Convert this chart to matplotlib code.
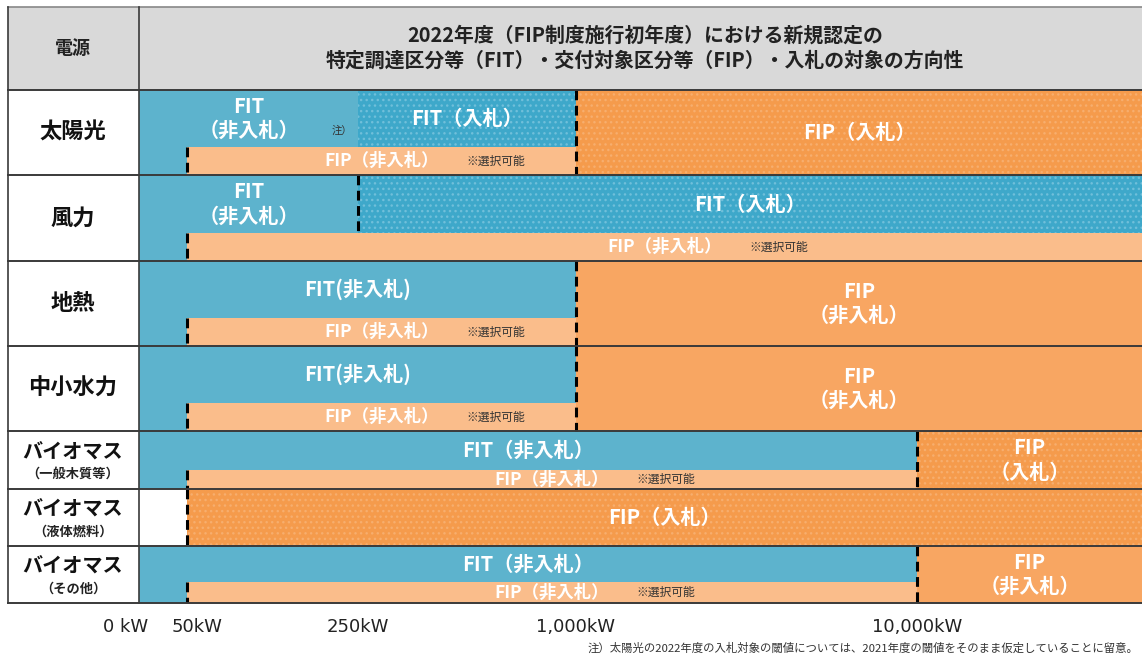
import numpy as np
import matplotlib
matplotlib.use("Agg")
import matplotlib.pyplot as plt
from matplotlib.transforms import blended_transform_factory, offset_copy, ScaledTranslation

plt.rcParams['font.family'] = ['Noto Sans CJK JP', 'DejaVu Sans']
plt.rcParams['hatch.linewidth'] = 1.0

# ---- data ----
sources = ["太陽光", "風力", "地熱", "中小水力", "バイオマス", "バイオマス", "バイオマス"]
sub_labels = ["", "", "", "", "（一般木質等）", "（液体燃料）", "（その他）"]

kw_ticks = [0, 50, 250, 1000, 10000]
kw_tick_labels = ["0 kW", "50kW", "250kW", "1,000kW", "10,000kW"]
KW_END = 30000  # right edge of the table (beyond 10,000kW)

# segments per source: (start kW, end kW, kind, label)
segments = [
    [(0, 250, "fit", "FIT\n（非入札）"), (250, 1000, "fit_bid", "FIT（入札）"), (1000, KW_END, "fip_bid", "FIP（入札）")],
    [(0, 250, "fit", "FIT\n（非入札）"), (250, KW_END, "fit_bid", "FIT（入札）")],
    [(0, 1000, "fit", "FIT(非入札)"), (1000, KW_END, "fip", "FIP\n（非入札）")],
    [(0, 1000, "fit", "FIT(非入札)"), (1000, KW_END, "fip", "FIP\n（非入札）")],
    [(0, 10000, "fit", "FIT（非入札）"), (10000, KW_END, "fip_bid", "FIP\n（入札）")],
    [(50, KW_END, "fip_bid", "FIP（入札）")],
    [(0, 10000, "fit", "FIT（非入札）"), (10000, KW_END, "fip", "FIP\n（非入札）")],
]
# optional FIP (非入札) band: (start kW, end kW) or None
optional_fip = [(50, 1000), (50, KW_END), (50, 1000), (50, 1000), (50, 10000), None, (50, 10000)]
# dashed threshold markers: (kW, part)
thresholds = [
    [(50, "band"), (1000, "full")],
    [(50, "band"), (250, "upper")],
    [(50, "band"), (1000, "full")],
    [(50, "band"), (1000, "full")],
    [(50, "band"), (10000, "full")],
    [(50, "full")],
    [(50, "band"), (10000, "full")],
]

title_lines = ["2022年度（FIP制度施行初年度）における新規認定の",
               "特定調達区分等（FIT）・交付対象区分等（FIP）・入札の対象の方向性"]
note = "注）太陽光の2022年度の入札対象の閾値については、2021年度の閾値をそのまま仮定していることに留意。"

# ---- styles / layout ----
colors = {"fit": "#5db3cd", "fit_bid": "#3ea8ca", "fip_bid": "#f59b4c",
          "fip": "#f8a662", "opt": "#fabd8b"}
dots = {"fit_bid": "#70bfda", "fip_bid": "#f7ae6e"}
line_c = "#3a3a3a"

W, H = 1142, 661
x0, x1 = 139, 1142
y_top, y_bot = 90, 603
row_h = [85, 86, 85, 85, 58, 57, 57]
band_h = [28, 28, 28, 28, 19, 19, 21]
pos_breaks = [0, 48, 219, 437, 778, 1003]
kw_breaks = [0, 50, 250, 1000, 10000, KW_END]


def fwd(x):
    return np.interp(x, kw_breaks, pos_breaks)


def inv(p):
    return np.interp(p, pos_breaks, kw_breaks)


fig = plt.figure(figsize=(W / 100, H / 100), dpi=100)

# background axes in pixel coordinates for header & label column
bg = fig.add_axes([0, 0, 1, 1], zorder=1)
bg.set_xlim(0, W)
bg.set_ylim(H, 0)
bg.axis("off")
bg.add_patch(plt.Rectangle((8, 7), W - 8, y_top - 7, color="#d9d9d9", lw=0))

ax = fig.add_axes([x0 / W, (H - y_bot) / H, (x1 - x0) / W, (y_bot - y_top) / H], zorder=2)
ax.set_xscale("function", functions=(fwd, inv))
ax.set_xlim(0, KW_END)
total = sum(row_h)
ax.set_ylim(total, 0)
for s in ax.spines.values():
    s.set_visible(False)
ax.tick_params(axis="y", left=False, labelleft=False)
ax.set_xticks(kw_ticks)
ax.set_xticklabels(kw_tick_labels, family="DejaVu Sans", fontsize=13, color="#222222")
ax.tick_params(axis="x", length=0, pad=10.5)
xt = ax.get_xticklabels()
xt[0].set_transform(xt[0].get_transform() + ScaledTranslation(-13 / 100, 0, fig.dpi_scale_trans))
xt[1].set_transform(xt[1].get_transform() + ScaledTranslation(10 / 100, 0, fig.dpi_scale_trans))

bt = blended_transform_factory(ax.transAxes, ax.transData)


def center_frac(a, b):
    return (fwd(a) + fwd(b)) / 2 / pos_breaks[-1]


tops = np.concatenate([[0], np.cumsum(row_h)])
for i in range(len(sources)):
    top, h = tops[i], row_h[i]
    bottom = top + h
    band = optional_fip[i]
    band_top = bottom - band_h[i]
    for a, b, kind, label in segments[i]:
        ax.barh(top + h / 2, b - a, left=a, height=h, color=colors[kind],
                hatch="..." if kind in dots else None,
                edgecolor=dots.get(kind, colors[kind]), lw=0)
        covered = band is not None and band[0] < b and band[1] > a
        ty = (top + band_top) / 2 if covered else top + h / 2
        ax.text(center_frac(a, b), ty, label, transform=bt, ha="center", va="center",
                color="white", fontsize=14.5, fontweight="bold", linespacing=1.2)
    if band is not None:
        a, b = band
        ax.barh(bottom - band_h[i] / 2, b - a, left=a, height=band_h[i], color=colors["opt"], lw=0)
        cx = center_frac(a, b)
        ax.text(cx, bottom - band_h[i] / 2, "FIP（非入札）", transform=bt, ha="center", va="center",
                color="white", fontsize=12.5, fontweight="bold")
        ax.text(cx, bottom - band_h[i] / 2, "※選択可能",
                transform=offset_copy(bt, fig=fig, x=61, y=0, units="points"),
                ha="left", va="center", color="#333333", fontsize=8.5)
    for kw, part in thresholds[i]:
        if part == "full":
            ya, yb = top, bottom
        elif part == "band":
            ya, yb = band_top, bottom
        else:
            ya, yb = top, band_top
        ax.vlines(kw, ya, yb, colors="black", lw=2.2, linestyles=(0, (3.2, 1.8)))

# small note mark in the solar row
ax.text(250, 41, "注）", transform=offset_copy(ax.transData, fig=fig, x=-4, y=0, units="points"),
        ha="right", va="center", fontsize=7.5, color="#333333")

# overlay axes for table lines and texts
ov = fig.add_axes([0, 0, 1, 1], zorder=3)
ov.set_xlim(0, W)
ov.set_ylim(H, 0)
ov.axis("off")
ov.patch.set_alpha(0)
for yy in y_top + tops:
    ov.plot([8, W], [yy, yy], color=line_c, lw=1.4)
ov.plot([8, W], [7, 7], color="#888888", lw=1.2)
ov.plot([8, 8], [7, y_bot], color=line_c, lw=1.2)
ov.plot([x0, x0], [7, y_bot], color=line_c, lw=1.2)

# header texts
ov.text(73, 48, "電源", ha="center", va="center", fontsize=13, fontweight="bold", color="#222222")
ov.text(645, 35, title_lines[0], ha="center", va="center", fontsize=14.3, fontweight="bold", color="#222222")
ov.text(645, 60, title_lines[1], ha="center", va="center", fontsize=14.3, fontweight="bold", color="#222222")

# row labels
for i, name in enumerate(sources):
    cy = y_top + tops[i] + row_h[i] / 2
    if sub_labels[i]:
        ov.text(73, cy - 8, name, ha="center", va="center", fontsize=14.5, fontweight="bold", color="#111111")
        ov.text(73, cy + 14, sub_labels[i], ha="center", va="center", fontsize=9.5, fontweight="bold", color="#222222")
    else:
        ov.text(73, cy, name, ha="center", va="center", fontsize=16, fontweight="bold", color="#111111")

ov.text(1138, 648, note, ha="right", va="center", fontsize=8.2, color="#333333")

fig.savefig("out.png", dpi=100)
